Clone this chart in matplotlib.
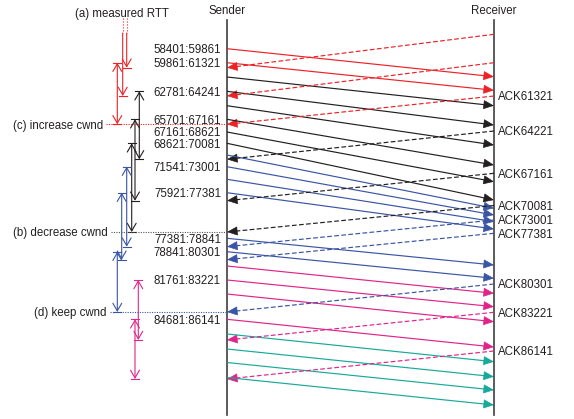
# TCP sender/receiver sequence diagram with RTT brackets
import numpy as np
import matplotlib
matplotlib.use("Agg")
import matplotlib.pyplot as plt
from matplotlib.patches import FancyArrowPatch, ArrowStyle

plt.rcParams["font.family"] = ["Liberation Sans", "DejaVu Sans"]

# --- data (time runs downwards) ---
send_t0 = [48.7, 62.7, 77, 91.3, 105.7, 119.3, 132, 143.3, 155, 166.7, 179.3,
           192.7, 238.3, 251.7, 266, 280, 294, 319.3, 334, 349, 362.5, 377.5]
send_t1 = [76.7, 90.3, 105.7, 125, 145, 165, 181.7, 200, 208.3, 215, 221.7,
           229, 265, 278.3, 293.3, 306.7, 321.7, 347, 361.7, 376.7, 390, 405]
send_group = ["red"] * 2 + ["black"] * 6 + ["blue"] * 6 + ["magenta"] * 4 + ["teal"] * 4
send_labels = ["58401:59861", "59861:61321", "", "62781:64241", "", "65701:67161",
               "67161:68621", "68621:70081", "", "71541:73001", "", "75921:77381",
               "77381:78841", "78841:80301", "", "81761:83221", "", "84681:86141",
               "", "", "", ""]

ack_t0 = [34.3, 62.7, 96, 131, 173.3, 205.5, 220, 233.3, 284, 312.3, 351]
ack_t1 = [67.7, 96, 124.3, 159.3, 200.7, 232, 246.7, 259.7, 312, 340, 379]
ack_group = ["red"] * 3 + ["black"] * 3 + ["blue"] * 3 + ["magenta"] * 2
ack_labels = ["", "", "ACK61321", "ACK64221", "ACK67161", "ACK70081",
              "ACK73001", "ACK77381", "ACK80301", "ACK83221", "ACK86141"]

# RTT brackets: (send index or None, ack index)
rtt_pairs = [(1, 2), (None, 1), (None, 0),
             (3, 3), (5, 4), (7, 5),
             (9, 6), (11, 7), (13, 8),
             (15, 9), (17, 10)]
rtt_x = [117.3, 122.7, 126.7, 139.3, 135, 131.7, 126.7, 121.7, 117.3, 138.3, 135]

# cwnd events: (text, ack index, colour group)
events = [("(c) increase cwnd", 2, "red"),
          ("(b) decrease cwnd", 5, "gray"),
          ("(d) keep cwnd", 8, "blue")]
event_x = [103, 108, 107]

colors = {"red": "#ec2227", "black": "#231f20", "blue": "#3a55a4",
          "magenta": "#e0248a", "teal": "#17a99a", "gray": "#555555"}

# --- layout ---
X_SND, X_RCV = 227, 494
TXT = "#231f20"
FS = 8.3
DY = 1.3  # nudge text down so digits sit on the line centre

fig = plt.figure(figsize=(5.74, 4.19), dpi=100)
ax = fig.add_axes([0, 0, 1, 1])
ax.set_xlim(0, 574)
ax.set_ylim(419, 0)
ax.axis("off")

HL = 9.3  # head length in px


def arrow(x0, y0, x1, y1, c, ls):
    d = np.array([x1 - x0, y1 - y0])
    u = d / np.hypot(*d)
    hx, hy = x1 - u[0] * HL, y1 - u[1] * HL
    ax.plot([x0, hx], [y0, hy], color=c, lw=0.85, ls=ls, solid_capstyle="butt")
    ax.add_patch(FancyArrowPatch((hx, hy), (x1, y1),
                                 arrowstyle=ArrowStyle("-|>", head_length=6.7, head_width=2.9),
                                 mutation_scale=1, color=c, lw=0.5,
                                 shrinkA=0, shrinkB=0))


# sender / receiver lines
ax.plot([X_SND, X_SND], [20, 415], color="#404040", lw=1.2)
ax.plot([X_RCV, X_RCV], [20, 415], color="#404040", lw=1.2)
ax.text(X_SND, 10 + DY, "Sender", ha="center", va="center", fontsize=FS, color=TXT)
ax.text(X_RCV, 10 + DY, "Receiver", ha="center", va="center", fontsize=FS, color=TXT)

# data segments
for t0, t1, g, lab in zip(send_t0, send_t1, send_group, send_labels):
    arrow(X_SND, t0, X_RCV, t1, colors[g], "-")
    if lab:
        ax.text(X_SND - 6, t0 + DY, lab, ha="right", va="center", fontsize=FS, color=TXT)

# acks
for t0, t1, g, lab in zip(ack_t0, ack_t1, ack_group, ack_labels):
    arrow(X_RCV, t0, X_SND, t1, colors[g], (0, (4, 2)))
    if lab:
        ax.text(X_RCV + 4, t0 + DY, lab, ha="left", va="center", fontsize=FS, color=TXT)

# RTT brackets
for (si, ai), x in zip(rtt_pairs, rtt_x):
    g = ack_group[ai]
    c = colors[g]
    y1 = ack_t1[ai]
    if si is None:
        y0 = 33
        ax.plot([x, x], [18, y0], color=c, lw=0.8, ls=":")
        style = ArrowStyle("->", head_length=5.5, head_width=3.2)
    else:
        y0 = send_t0[si]
        style = ArrowStyle("<->", head_length=5.5, head_width=3.2)
        ax.plot([x - 4, x + 4], [y0, y0], color=c, lw=0.8)
    ax.plot([x - 4, x + 4], [y1, y1], color=c, lw=0.8)
    ax.add_patch(FancyArrowPatch((x, y0), (x, y1), arrowstyle=style,
                                 mutation_scale=1, color=c, lw=0.8,
                                 shrinkA=0, shrinkB=0))

ax.text(122, 13 + DY, "(a) measured RTT", ha="center", va="center", fontsize=FS, color=TXT)

# cwnd events
for (txt, ai, g), ex in zip(events, event_x):
    y = ack_t1[ai]
    ax.text(ex, y + DY, txt, ha="right", va="center", fontsize=FS, color=TXT)
    ax.plot([ex + 3, X_SND], [y, y], color=colors[g], lw=0.8, ls=(0, (1, 1.2)))

plt.savefig("out.png", dpi=100)
